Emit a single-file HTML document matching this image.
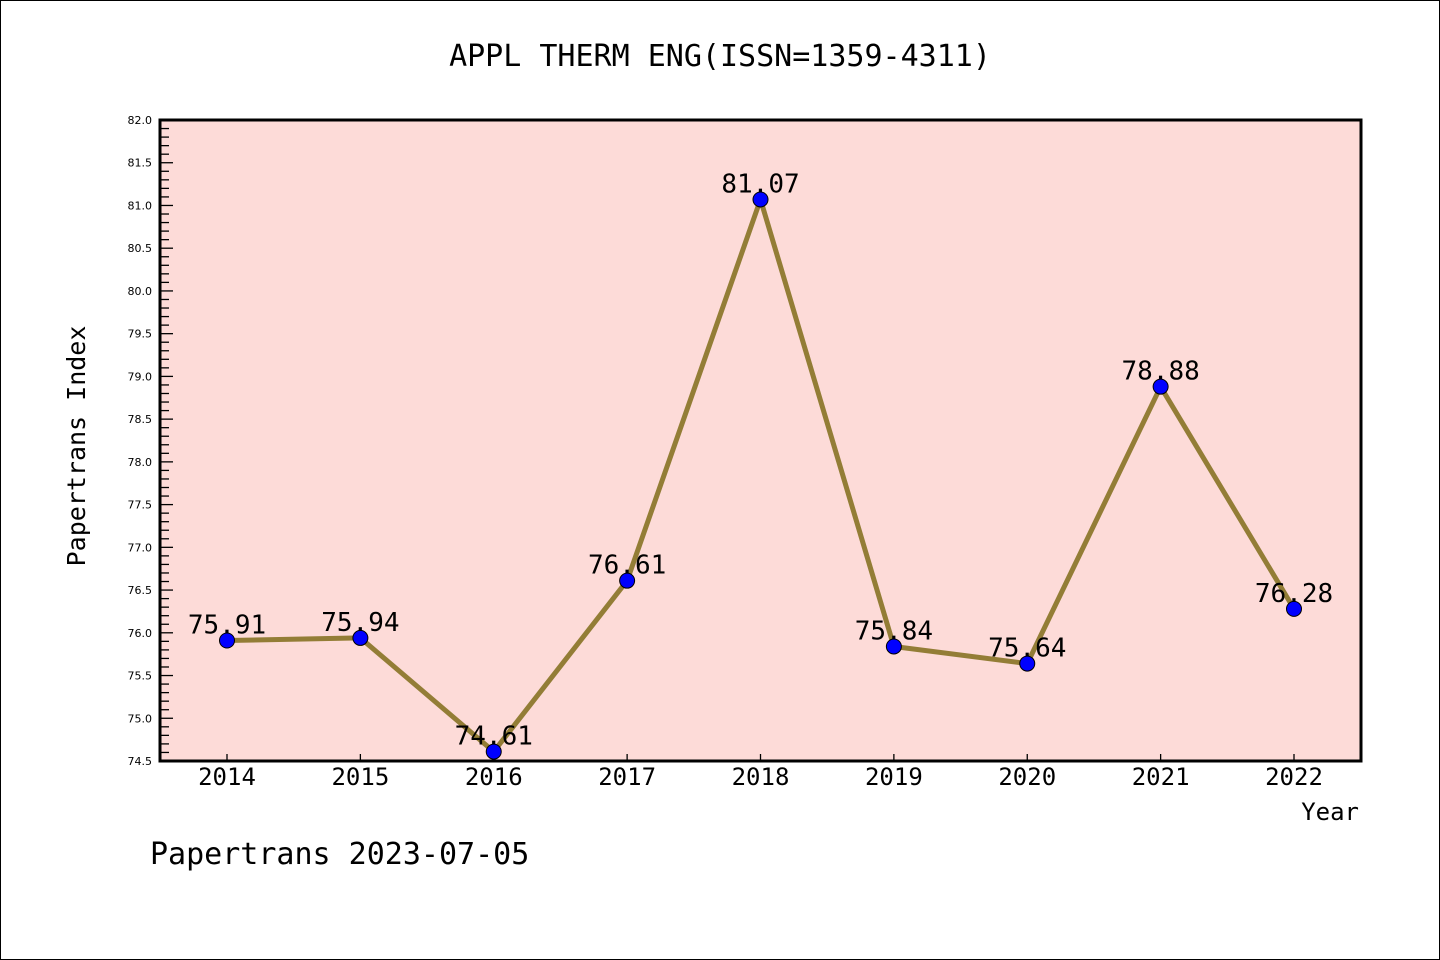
<!DOCTYPE html>
<html><head><meta charset="utf-8"><style>
html,body{margin:0;padding:0;background:#fff}
svg{display:block}
text{font-family:"DejaVu Sans Mono","Liberation Mono",monospace}
text.ytick{font-family:"DejaVu Sans","Liberation Sans",sans-serif}
</style></head><body>
<svg id="chart" width="1440" height="960">
<rect x="0.5" y="0.5" width="1439" height="959" fill="#fff" stroke="#000"/>
<text x="720" y="66" font-size="30" text-anchor="middle">APPL THERM ENG(ISSN=1359-4311)</text>
<rect x="160" y="120" width="1201" height="641" fill="#fddbd8"/>
<g id="axes"></g>
<g id="series"></g>
<rect x="160" y="120" width="1201" height="641" fill="none" stroke="#000" stroke-width="3"/>
<text x="85" y="446" font-size="25" text-anchor="middle" transform="rotate(-90 85 446)">Papertrans Index</text>
<text x="1359" y="820" font-size="24" text-anchor="end">Year</text>
<text x="150" y="864" font-size="30">Papertrans 2023-07-05</text>
</svg>
<script>
const years = [2014,2015,2016,2017,2018,2019,2020,2021,2022];
const values = [75.91,75.94,74.61,76.61,81.07,75.84,75.64,78.88,76.28];
const valueLabels = ["75.91","75.94","74.61","76.61","81.07","75.84","75.64","78.88","76.28"];
const yTicks = ["74.5","75.0","75.5","76.0","76.5","77.0","77.5","78.0","78.5","79.0","79.5","80.0","80.5","81.0","81.5","82.0"];
const NS="http://www.w3.org/2000/svg";
const yMin=74.5,yMax=82.0,pTop=120,pBot=761;
const yS=v=>pBot-(v-yMin)/(yMax-yMin)*(pBot-pTop);
const xS=yr=>227+(yr-2014)*(1294-227)/8;
function mk(t,a,p){const e=document.createElementNS(NS,t);for(const k in a)e.setAttribute(k,a[k]);p.appendChild(e);return e;}
const ax=document.getElementById('axes');
for(let i=0;i<=75;i++){
  const v=yMin+i*0.1;const major=i%5===0;
  const l=mk('line',{x1:160,x2:160+(major?13:9),y1:yS(v),y2:yS(v),stroke:'#000','stroke-width':1.3},ax);
  
  
}
yTicks.forEach(s=>{
  const t=mk('text',{x:152,y:yS(parseFloat(s))+4,'font-size':11,'text-anchor':'end','class':'ytick'},ax);t.textContent=s;
  
  
});
years.forEach(yr=>{
  const l=mk('line',{x1:xS(yr),x2:xS(yr),y1:pBot,y2:pBot-7,stroke:'#000','stroke-width':1.3},ax);
  
  
  const t=mk('text',{x:xS(yr),y:785,'font-size':24,'text-anchor':'middle'},ax);t.textContent=yr;
  
  
});
const sg=document.getElementById('series');
const pl=mk('polyline',{points:years.map((yr,i)=>xS(yr)+','+yS(values[i])).join(' '),fill:'none',stroke:'#937d36','stroke-width':5,'stroke-linejoin':'round'},sg);


years.forEach((yr,i)=>{
  const c=mk('circle',{cx:xS(yr),cy:yS(values[i]),r:7.5,fill:'#0000ff',stroke:'#000','stroke-width':1},sg);
  
  
});
years.forEach((yr,i)=>{
  const t=mk('text',{x:xS(yr),y:yS(values[i])-7,'font-size':26,'text-anchor':'middle'},sg);t.textContent=valueLabels[i];
  
  
});
</script>
</body></html>
